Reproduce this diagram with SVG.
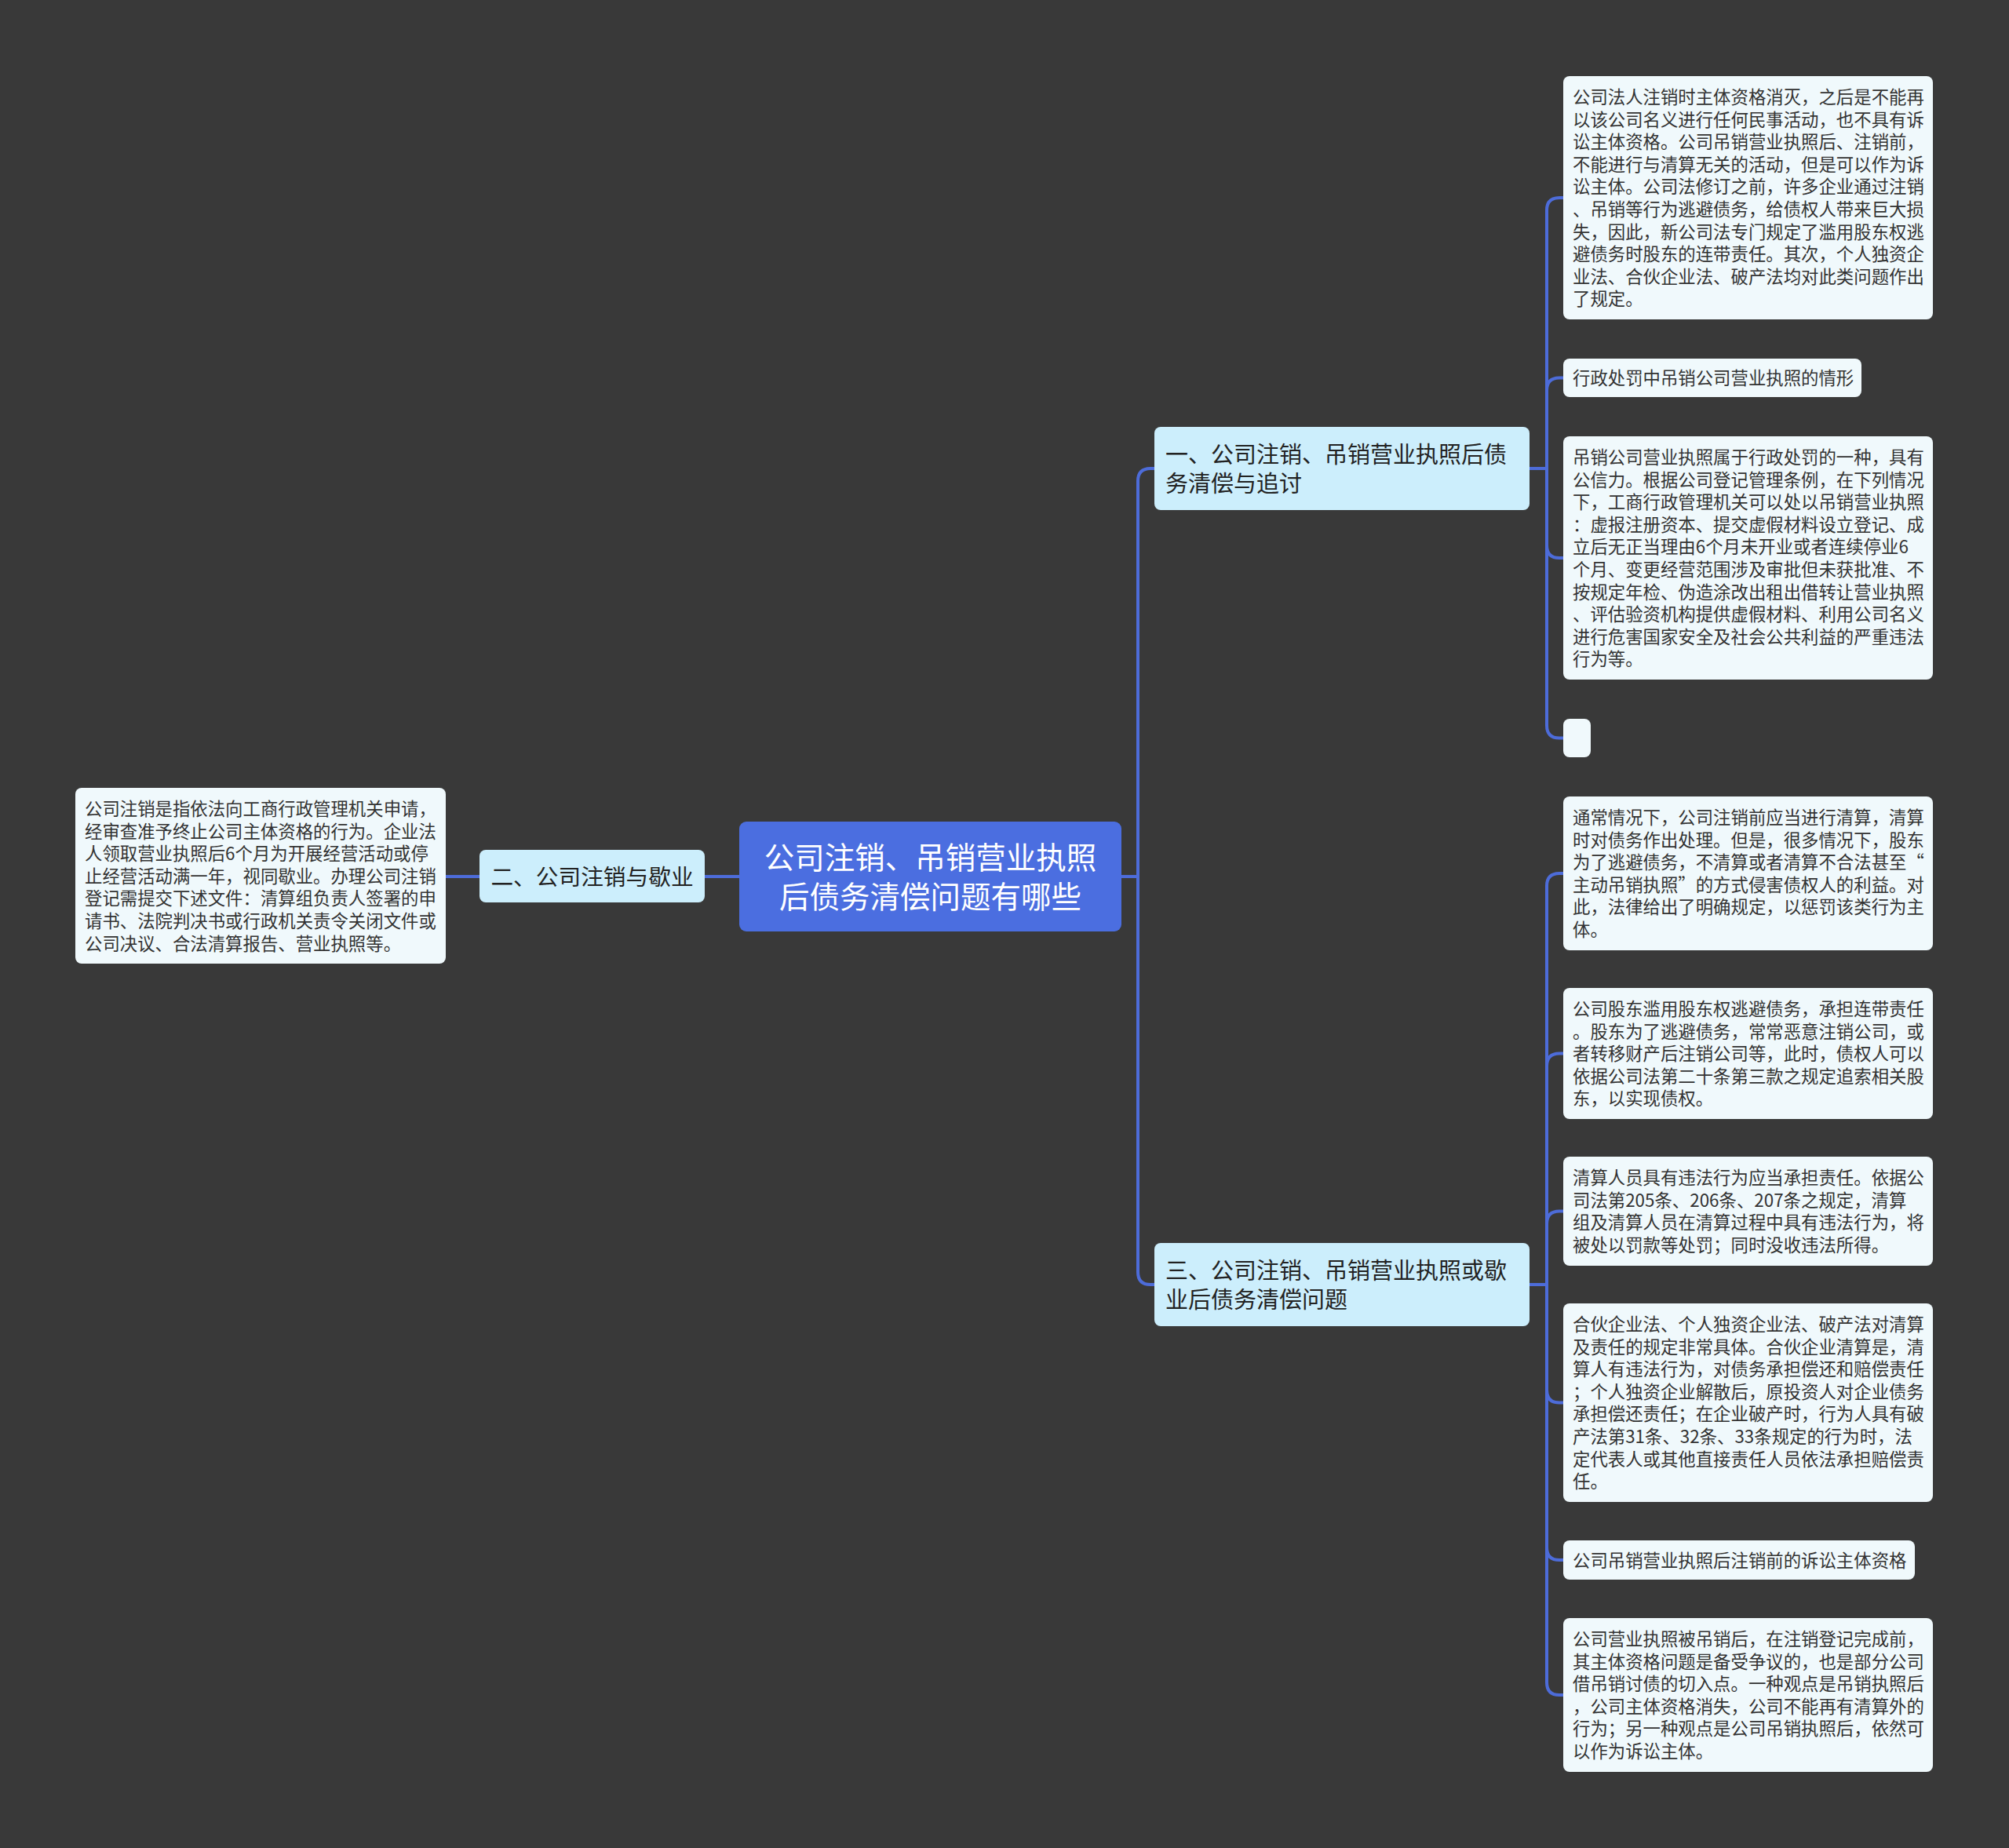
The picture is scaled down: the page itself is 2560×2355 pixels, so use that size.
<svg xmlns="http://www.w3.org/2000/svg" width="2560" height="2355" viewBox="0 0 2560 2355">
<style>
.leaf{fill:#F0F9FC;}
.branch{fill:#CCEEFC;}
.root{fill:#4B6EE0;}
.lt{font-family:"Noto Sans CJK SC","Noto Sans",sans-serif;font-size:22.4px;fill:#333333;}
.bt{font-family:"Noto Sans CJK SC","Noto Sans",sans-serif;font-size:29px;fill:#222222;}
.rt{font-family:"Noto Sans CJK SC","Noto Sans",sans-serif;font-size:38.5px;fill:#FFFFFF;text-anchor:middle;}
.c{fill:none;stroke:#4D6CD9;stroke-width:4;}
</style>
<rect x="0" y="0" width="2560" height="2355" fill="#393939"/>
<g id="connectors">
<path class="c" d="M942,1117 H898"/>
<path class="c" d="M611,1117 H568"/>
<path class="c" d="M1429,1117 H1450"/>
<path class="c" d="M1450,1117 V613 Q1450,597 1466,597 H1471"/>
<path class="c" d="M1450,1117 V1621 Q1450,1637 1466,1637 H1471"/>
<path class="c" d="M1949,597 H1971"/>
<path class="c" d="M1971,597 V268 Q1971,252 1987,252 H1992"/>
<path class="c" d="M1971,597 V497.5 Q1971,481.5 1987,481.5 H1992"/>
<path class="c" d="M1971,597 V695 Q1971,711 1987,711 H1992"/>
<path class="c" d="M1971,597 V924.5 Q1971,940.5 1987,940.5 H1992"/>
<path class="c" d="M1949,1637 H1971"/>
<path class="c" d="M1971,1637 V1129 Q1971,1113 1987,1113 H1992"/>
<path class="c" d="M1971,1637 V1358.5 Q1971,1342.5 1987,1342.5 H1992"/>
<path class="c" d="M1971,1637 V1559.5 Q1971,1543.5 1987,1543.5 H1992"/>
<path class="c" d="M1971,1637 V1771.5 Q1971,1787.5 1987,1787.5 H1992"/>
<path class="c" d="M1971,1637 V1972 Q1971,1988 1987,1988 H1992"/>
<path class="c" d="M1971,1637 V2144 Q1971,2160 1987,2160 H1992"/>
</g>
<g id="root">
<rect class="root" x="942" y="1047" width="487" height="140" rx="9"/>
<text class="rt" x="1185.5" y="1106.6">公司注销、吊销营业执照</text>
<text class="rt" x="1185.5" y="1156.6">后债务清偿问题有哪些</text>
</g>
<g id="b2">
<rect class="branch" x="611" y="1083" width="287" height="67" rx="8"/>
<text class="bt" x="754.5" y="1128" text-anchor="middle" style="font-size:28.7px">二、公司注销与歇业</text>
</g>
<g id="leftleaf">
<rect class="leaf" x="96" y="1004" width="472" height="224" rx="8"/>
<text class="lt" x="108" y="1039">
<tspan x="108" dy="0">公司注销是指依法向工商行政管理机关申请，</tspan>
<tspan x="108" dy="28.6">经审查准予终止公司主体资格的行为。企业法</tspan>
<tspan x="108" dy="28.6">人领取营业执照后6个月为开展经营活动或停</tspan>
<tspan x="108" dy="28.6">止经营活动满一年，视同歇业。办理公司注销</tspan>
<tspan x="108" dy="28.6">登记需提交下述文件：清算组负责人签署的申</tspan>
<tspan x="108" dy="28.6">请书、法院判决书或行政机关责令关闭文件或</tspan>
<tspan x="108" dy="28.6">公司决议、合法清算报告、营业执照等。</tspan>
</text>
</g>
<g id="b1">
<rect class="branch" x="1471" y="544" width="478" height="106" rx="8"/>
<text class="bt" x="1485" y="589.5">
<tspan x="1485" dy="0">一、公司注销、吊销营业执照后债</tspan>
<tspan x="1485" dy="37">务清偿与追讨</tspan>
</text>
</g>
<g id="b3">
<rect class="branch" x="1471" y="1584" width="478" height="106" rx="8"/>
<text class="bt" x="1485" y="1629.5">
<tspan x="1485" dy="0">三、公司注销、吊销营业执照或歇</tspan>
<tspan x="1485" dy="37">业后债务清偿问题</tspan>
</text>
</g>
<g id="l1">
<rect class="leaf" x="1992" y="97" width="471" height="310" rx="8"/>
<text class="lt" x="2004" y="132">
<tspan x="2004" dy="0">公司法人注销时主体资格消灭，之后是不能再</tspan>
<tspan x="2004" dy="28.6">以该公司名义进行任何民事活动，也不具有诉</tspan>
<tspan x="2004" dy="28.6">讼主体资格。公司吊销营业执照后、注销前，</tspan>
<tspan x="2004" dy="28.6">不能进行与清算无关的活动，但是可以作为诉</tspan>
<tspan x="2004" dy="28.6">讼主体。公司法修订之前，许多企业通过注销</tspan>
<tspan x="2004" dy="28.6">、吊销等行为逃避债务，给债权人带来巨大损</tspan>
<tspan x="2004" dy="28.6">失，因此，新公司法专门规定了滥用股东权逃</tspan>
<tspan x="2004" dy="28.6">避债务时股东的连带责任。其次，个人独资企</tspan>
<tspan x="2004" dy="28.6">业法、合伙企业法、破产法均对此类问题作出</tspan>
<tspan x="2004" dy="28.6">了规定。</tspan>
</text>
</g>
<g id="l2">
<rect class="leaf" x="1992" y="457" width="380" height="49" rx="8"/>
<text class="lt" x="2004" y="490">行政处罚中吊销公司营业执照的情形</text>
</g>
<g id="l3">
<rect class="leaf" x="1992" y="556" width="471" height="310" rx="8"/>
<text class="lt" x="2004" y="591">
<tspan x="2004" dy="0">吊销公司营业执照属于行政处罚的一种，具有</tspan>
<tspan x="2004" dy="28.6">公信力。根据公司登记管理条例，在下列情况</tspan>
<tspan x="2004" dy="28.6">下，工商行政管理机关可以处以吊销营业执照</tspan>
<tspan x="2004" dy="28.6">：虚报注册资本、提交虚假材料设立登记、成</tspan>
<tspan x="2004" dy="28.6">立后无正当理由6个月未开业或者连续停业6</tspan>
<tspan x="2004" dy="28.6">个月、变更经营范围涉及审批但未获批准、不</tspan>
<tspan x="2004" dy="28.6">按规定年检、伪造涂改出租出借转让营业执照</tspan>
<tspan x="2004" dy="28.6">、评估验资机构提供虚假材料、利用公司名义</tspan>
<tspan x="2004" dy="28.6">进行危害国家安全及社会公共利益的严重违法</tspan>
<tspan x="2004" dy="28.6">行为等。</tspan>
</text>
</g>
<g id="l4">
<rect class="leaf" x="1992" y="916" width="35" height="49" rx="8"/>
</g>
<g id="l5">
<rect class="leaf" x="1992" y="1015" width="471" height="196" rx="8"/>
<text class="lt" x="2004" y="1050">
<tspan x="2004" dy="0">通常情况下，公司注销前应当进行清算，清算</tspan>
<tspan x="2004" dy="28.6">时对债务作出处理。但是，很多情况下，股东</tspan>
<tspan x="2004" dy="28.6">为了逃避债务，不清算或者清算不合法甚至“</tspan>
<tspan x="2004" dy="28.6">主动吊销执照”的方式侵害债权人的利益。对</tspan>
<tspan x="2004" dy="28.6">此，法律给出了明确规定，以惩罚该类行为主</tspan>
<tspan x="2004" dy="28.6">体。</tspan>
</text>
</g>
<g id="l6">
<rect class="leaf" x="1992" y="1259" width="471" height="167" rx="8"/>
<text class="lt" x="2004" y="1294">
<tspan x="2004" dy="0">公司股东滥用股东权逃避债务，承担连带责任</tspan>
<tspan x="2004" dy="28.6">。股东为了逃避债务，常常恶意注销公司，或</tspan>
<tspan x="2004" dy="28.6">者转移财产后注销公司等，此时，债权人可以</tspan>
<tspan x="2004" dy="28.6">依据公司法第二十条第三款之规定追索相关股</tspan>
<tspan x="2004" dy="28.6">东，以实现债权。</tspan>
</text>
</g>
<g id="l7">
<rect class="leaf" x="1992" y="1474" width="471" height="139" rx="8"/>
<text class="lt" x="2004" y="1509">
<tspan x="2004" dy="0">清算人员具有违法行为应当承担责任。依据公</tspan>
<tspan x="2004" dy="28.6">司法第205条、206条、207条之规定，清算</tspan>
<tspan x="2004" dy="28.6">组及清算人员在清算过程中具有违法行为，将</tspan>
<tspan x="2004" dy="28.6">被处以罚款等处罚；同时没收违法所得。</tspan>
</text>
</g>
<g id="l8">
<rect class="leaf" x="1992" y="1661" width="471" height="253" rx="8"/>
<text class="lt" x="2004" y="1696">
<tspan x="2004" dy="0">合伙企业法、个人独资企业法、破产法对清算</tspan>
<tspan x="2004" dy="28.6">及责任的规定非常具体。合伙企业清算是，清</tspan>
<tspan x="2004" dy="28.6">算人有违法行为，对债务承担偿还和赔偿责任</tspan>
<tspan x="2004" dy="28.6">；个人独资企业解散后，原投资人对企业债务</tspan>
<tspan x="2004" dy="28.6">承担偿还责任；在企业破产时，行为人具有破</tspan>
<tspan x="2004" dy="28.6">产法第31条、32条、33条规定的行为时，法</tspan>
<tspan x="2004" dy="28.6">定代表人或其他直接责任人员依法承担赔偿责</tspan>
<tspan x="2004" dy="28.6">任。</tspan>
</text>
</g>
<g id="l9">
<rect class="leaf" x="1992" y="1963" width="448" height="50" rx="8"/>
<text class="lt" x="2004" y="1996.5">公司吊销营业执照后注销前的诉讼主体资格</text>
</g>
<g id="l10">
<rect class="leaf" x="1992" y="2062" width="471" height="196" rx="8"/>
<text class="lt" x="2004" y="2097">
<tspan x="2004" dy="0">公司营业执照被吊销后，在注销登记完成前，</tspan>
<tspan x="2004" dy="28.6">其主体资格问题是备受争议的，也是部分公司</tspan>
<tspan x="2004" dy="28.6">借吊销讨债的切入点。一种观点是吊销执照后</tspan>
<tspan x="2004" dy="28.6">，公司主体资格消失，公司不能再有清算外的</tspan>
<tspan x="2004" dy="28.6">行为；另一种观点是公司吊销执照后，依然可</tspan>
<tspan x="2004" dy="28.6">以作为诉讼主体。</tspan>
</text>
</g>
</svg>
